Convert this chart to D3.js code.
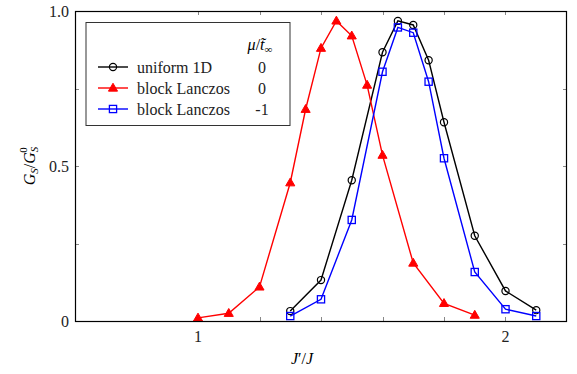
<!DOCTYPE html>
<html>
<head>
<meta charset="utf-8">
<script src="https://cdn.jsdelivr.net/npm/d3@7"></script>
<style>
  body { margin: 0; background: #fff; }
</style>
</head>
<body>
<svg id="chart" width="577" height="374" font-family="'Liberation Serif', serif"></svg>
<script>
// ######## data ########
const uniformX = [1.3, 1.4, 1.5, 1.6, 1.65, 1.7, 1.75, 1.8, 1.9, 2.0, 2.1];
const uniformY = [0.032, 0.132, 0.454, 0.867, 0.968, 0.955, 0.841, 0.641, 0.275, 0.097, 0.035];

const lanczos0X = [1.0, 1.1, 1.2, 1.3, 1.35, 1.4, 1.45, 1.5, 1.55, 1.6, 1.7, 1.8, 1.9];
const lanczos0Y = [0.01, 0.025, 0.11, 0.446, 0.683, 0.88, 0.968, 0.92, 0.761, 0.535, 0.187, 0.057, 0.019];

const lanczos1X = [1.3, 1.4, 1.5, 1.6, 1.65, 1.7, 1.75, 1.8, 1.9, 2.0, 2.1];
const lanczos1Y = [0.016, 0.07, 0.326, 0.804, 0.947, 0.93, 0.772, 0.525, 0.158, 0.038, 0.016];

const xTicks = [1, 2];
const xMinorTicks = [1.2, 1.4, 1.6, 1.8];
const yTicks = [0, 0.5, 1.0];
const yMinorTicks = [0.25, 0.75];

const seriesNames = ["uniform 1D", "block Lanczos", "block Lanczos"];
const seriesMu = ["0", "0", "-1"];

// ######## layout ########
const svg = d3.select("#chart");
const plotL = 75, plotR = 567, plotT = 11, plotB = 321;
const fs = 16;

const x = d3.scaleLinear().domain([0.6, 2.2]).range([plotL, plotR]);
const y = d3.scaleLinear().domain([0, 1]).range([plotB, plotT]);

const series = [
  { xs: uniformX, ys: uniformY, color: "#000", marker: "circle" },
  { xs: lanczos0X, ys: lanczos0Y, color: "#f00", marker: "triangle" },
  { xs: lanczos1X, ys: lanczos1Y, color: "#00f", marker: "square" }
];

// ticks, inward on all four sides
const tickLen = 4;
const tickColor = "#888";
const ticksG = svg.append("g").attr("stroke", tickColor).attr("stroke-width", 1);
xTicks.concat(xMinorTicks).forEach(t => {
  const px = Math.round(x(t)) + 0.5;
  ticksG.append("line").attr("x1", px).attr("x2", px).attr("y1", plotB).attr("y2", plotB - tickLen);
  ticksG.append("line").attr("x1", px).attr("x2", px).attr("y1", plotT).attr("y2", plotT + tickLen);
});
yTicks.concat(yMinorTicks).forEach(t => {
  const py = Math.round(y(t)) + 0.5;
  ticksG.append("line").attr("x1", plotL).attr("x2", plotL + tickLen).attr("y1", py).attr("y2", py);
  ticksG.append("line").attr("x1", plotR).attr("x2", plotR - tickLen).attr("y1", py).attr("y2", py);
});

// tick labels
xTicks.forEach(t => {
  svg.append("text").attr("x", x(t)).attr("y", 342)
    .attr("text-anchor", "middle").attr("font-size", fs).attr("fill", "#222")
    .text(d3.format("d")(t));
});
yTicks.forEach(t => {
  svg.append("text").attr("x", 69).attr("y", y(t) + 5.5)
    .attr("text-anchor", "end").attr("font-size", fs).attr("fill", "#222")
    .text(t === 0 ? "0" : d3.format(".1f")(t));
});

// axis titles
const xTitle = svg.append("text").attr("x", 302).attr("y", 364)
  .attr("text-anchor", "middle").attr("font-size", fs).attr("font-style", "italic");
xTitle.append("tspan").text("J");
xTitle.append("tspan").attr("font-style", "normal").text("′/");
xTitle.append("tspan").text("J");

const yTitle = svg.append("text")
  .attr("transform", "translate(35,166) rotate(-90)")
  .attr("text-anchor", "middle").attr("font-size", fs).attr("font-style", "italic");
yTitle.append("tspan").text("G");
yTitle.append("tspan").attr("font-size", 11).attr("dy", 3).text("S");
yTitle.append("tspan").attr("font-style", "normal").attr("dy", -3).text("/");
yTitle.append("tspan").text("G");
yTitle.append("tspan").attr("font-size", 11).attr("dy", 3).text("S");
yTitle.append("tspan").attr("font-size", 11).attr("font-style", "normal").attr("dy", -11).attr("dx", -6).text("0");

// ######## markers ########
function drawMarker(g, type, cx, cy, color) {
  if (type === "circle") {
    g.append("circle").attr("cx", cx).attr("cy", cy).attr("r", 3.6)
      .attr("fill", "none").attr("stroke", color).attr("stroke-width", 1.2);
  } else if (type === "triangle") {
    g.append("path")
      .attr("d", d3.symbol().type(d3.symbolTriangle).size(36)())
      .attr("transform", `translate(${cx},${cy + 0.5})`)
      .attr("fill", color).attr("stroke", color).attr("stroke-width", 1);
  } else {
    g.append("rect").attr("x", cx - 3.6).attr("y", cy - 3.6).attr("width", 7.2).attr("height", 7.2)
      .attr("fill", "none").attr("stroke", color).attr("stroke-width", 1.3);
  }
}

const line = d3.line().x(d => x(d[0])).y(d => y(d[1]));
series.forEach(s => {
  const pts = s.xs.map((v, i) => [v, s.ys[i]]);
  const g = svg.append("g");
  g.append("path").datum(pts).attr("d", line)
    .attr("fill", "none").attr("stroke", s.color).attr("stroke-width", 1.4);
  pts.forEach(p => drawMarker(g, s.marker, x(p[0]), y(p[1]), s.color));
});

// frame
svg.append("rect").attr("x", plotL + 0.5).attr("y", plotT + 0.5)
  .attr("width", plotR - plotL - 1).attr("height", plotB - plotT)
  .attr("fill", "none").attr("stroke", "#000").attr("stroke-width", 1.2);

// ######## legend ########
const lg = svg.append("g");
lg.append("rect").attr("x", 86).attr("y", 22.5).attr("width", 204).attr("height", 103)
  .attr("fill", "#fff").attr("stroke", "#333").attr("stroke-width", 1);

const head = lg.append("text").attr("x", 260).attr("y", 50).attr("text-anchor", "middle")
  .attr("font-size", fs).attr("font-style", "italic");
head.append("tspan").text("μ");
head.append("tspan").attr("font-style", "normal").text("/");
head.append("tspan").text("t̃");
head.append("tspan").attr("font-style", "normal").attr("font-size", 11).attr("dy", 3).text("∞");

series.forEach((s, i) => {
  const ry = 67 + i * 21;
  lg.append("line").attr("x1", 98).attr("x2", 128).attr("y1", ry).attr("y2", ry)
    .attr("stroke", s.color).attr("stroke-width", 1.4);
  drawMarker(lg, s.marker, 113, ry, s.color);
  lg.append("text").attr("x", 137).attr("y", ry + 5.5).attr("font-size", fs).attr("fill", "#222")
    .text(seriesNames[i]);
  lg.append("text").attr("x", 262).attr("y", ry + 5.5).attr("font-size", fs).attr("fill", "#222")
    .attr("text-anchor", "middle").text(seriesMu[i]);
});
</script>
</body>
</html>
